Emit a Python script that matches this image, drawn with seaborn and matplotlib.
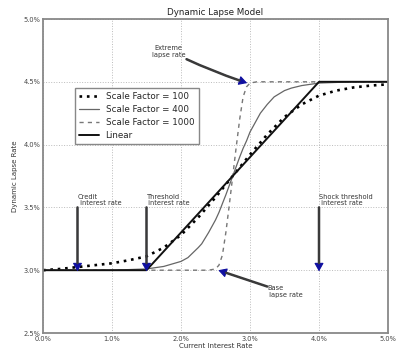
import numpy as np
import pandas as pd
import seaborn as sns
from matplotlib import pyplot as plt
from matplotlib.ticker import PercentFormatter

# values (rates as fractions)
sf100_x = [0.0, 0.0025, 0.005, 0.0075, 0.01, 0.0125, 0.015, 0.0175, 0.02, 0.0225, 0.025,
           0.0275, 0.03, 0.0325, 0.035, 0.0375, 0.04, 0.0425, 0.045, 0.0475, 0.05]
sf100_y = [0.0300, 0.0301, 0.03025, 0.0304, 0.03055, 0.0308, 0.0311, 0.0318, 0.0328, 0.0342, 0.0358,
           0.0375, 0.0392, 0.0408, 0.0422, 0.0432, 0.0439, 0.0443, 0.04455, 0.0447, 0.0448]

sf400_x = [0.0, 0.01, 0.015, 0.0175, 0.02, 0.021, 0.0225, 0.023, 0.024, 0.0245, 0.025, 0.0255,
           0.026, 0.0265, 0.0275, 0.0285, 0.029, 0.0295, 0.03, 0.0305, 0.031, 0.0315, 0.0325,
           0.0335, 0.035, 0.036, 0.0375, 0.04, 0.045, 0.05]
sf400_y = [0.0300, 0.0300, 0.0301, 0.0303, 0.0307, 0.0310, 0.0318, 0.0321, 0.0330, 0.0335, 0.0340,
           0.0346, 0.0353, 0.0360, 0.0375, 0.0390, 0.0397, 0.0403, 0.0410, 0.0415, 0.0420, 0.0425,
           0.0432, 0.0438, 0.0443, 0.0445, 0.0447, 0.0449, 0.0450, 0.0450]

sf1000_x = [0.0, 0.024, 0.025, 0.0255, 0.026, 0.0265, 0.027, 0.0275, 0.028, 0.0285, 0.029,
            0.0295, 0.03, 0.031, 0.05]
sf1000_y = [0.0300, 0.0300, 0.0301, 0.0304, 0.0312, 0.0330, 0.0352, 0.0375, 0.0398, 0.0420, 0.0438,
            0.0446, 0.0449, 0.0450, 0.0450]

linear_x = [0.0, 0.015, 0.04, 0.05]
linear_y = [0.030, 0.030, 0.045, 0.045]

x_ticks = [0.0, 0.01, 0.02, 0.03, 0.04, 0.05]
y_ticks = [0.025, 0.030, 0.035, 0.040, 0.045, 0.050]


def arrow(ax, xy, xytext, rad=0.0):
    # blue head underneath, dark grey shaft on top
    cs = 'arc3,rad=%s' % rad
    ax.annotate('', xy=xy, xytext=xytext,
                arrowprops=dict(arrowstyle='-|>,head_length=0.5,head_width=0.28',
                                color='#1010a0', lw=0.8, shrinkA=0, shrinkB=0,
                                connectionstyle=cs), zorder=5)
    ax.annotate('', xy=xy, xytext=xytext,
                arrowprops=dict(arrowstyle='-', color='#3a3a3a', lw=1.8,
                                shrinkA=0, shrinkB=6, connectionstyle=cs), zorder=6)


sns.set_style('white')
plt.rcParams['font.family'] = ['DejaVu Sans']

fig = plt.figure(figsize=(3.97, 3.49), dpi=100)
ax = fig.add_axes([43 / 397, 16 / 349, 345 / 397, 314 / 349])

sns.lineplot(x=sf100_x, y=sf100_y, ax=ax, color='black', ls=(0, (1, 1.8)), lw=1.9,
             label='Scale Factor = 100')
sns.lineplot(x=sf400_x, y=sf400_y, ax=ax, color='#666666', lw=0.9,
             label='Scale Factor = 400')
sns.lineplot(x=sf1000_x, y=sf1000_y, ax=ax, color='#777777', ls=(0, (3, 3)), lw=1.0,
             label='Scale Factor = 1000')
sns.lineplot(x=linear_x, y=linear_y, ax=ax, color='#111111', lw=1.4, label='Linear')

ax.set_xlim(0, 0.05)
ax.set_ylim(0.025, 0.05)
ax.set_xticks(x_ticks)
ax.set_yticks(y_ticks)
ax.xaxis.set_major_formatter(PercentFormatter(xmax=1, decimals=1))
ax.yaxis.set_major_formatter(PercentFormatter(xmax=1, decimals=1))
ax.tick_params(labelsize=4.8, length=3, direction='in', pad=2, colors='#444444')
ax.grid(True, ls=':', color='#bbbbbb', lw=0.7)
for sp in ax.spines.values():
    sp.set_color('#888888')
    sp.set_linewidth(1.3)

ax.set_title('Dynamic Lapse Model', fontsize=6.3, pad=3, color='#222222')
ax.set_xlabel('Current Interest Rate', fontsize=5, labelpad=1, color='#333333')
ax.set_ylabel('Dynamic Lapse Rate', fontsize=5, labelpad=4, color='#333333')

leg = ax.legend(loc='upper left', bbox_to_anchor=(0.08, 0.795), fontsize=6.3,
                frameon=True, fancybox=False, framealpha=1, edgecolor='#888888',
                handlelength=2.2, borderpad=0.5, labelspacing=0.45)
leg.get_frame().set_linewidth(1.0)

# annotations
txt = dict(fontsize=4.8, color='#333333', linespacing=1.1)
for xv, label in [(0.005, 'Credit\n interest rate'),
                  (0.015, 'Threshold\n interest rate'),
                  (0.04, 'Shock threshold\n interest rate')]:
    ax.text(xv, 0.0351, label, ha='left', va='bottom', **txt)
    arrow(ax, (xv, 0.0299), (xv, 0.0350))

ax.text(0.0206, 0.0469, 'Extreme\nlapse rate', ha='right', va='bottom',
        multialignment='center', **txt)
arrow(ax, (0.0296, 0.0449), (0.0208, 0.0468), rad=0.03)

ax.text(0.0325, 0.0288, 'Base\n lapse rate', ha='left', va='top', **txt)
arrow(ax, (0.0254, 0.0300), (0.0325, 0.0287), rad=0.0)

fig.savefig('out.png', dpi=100)
